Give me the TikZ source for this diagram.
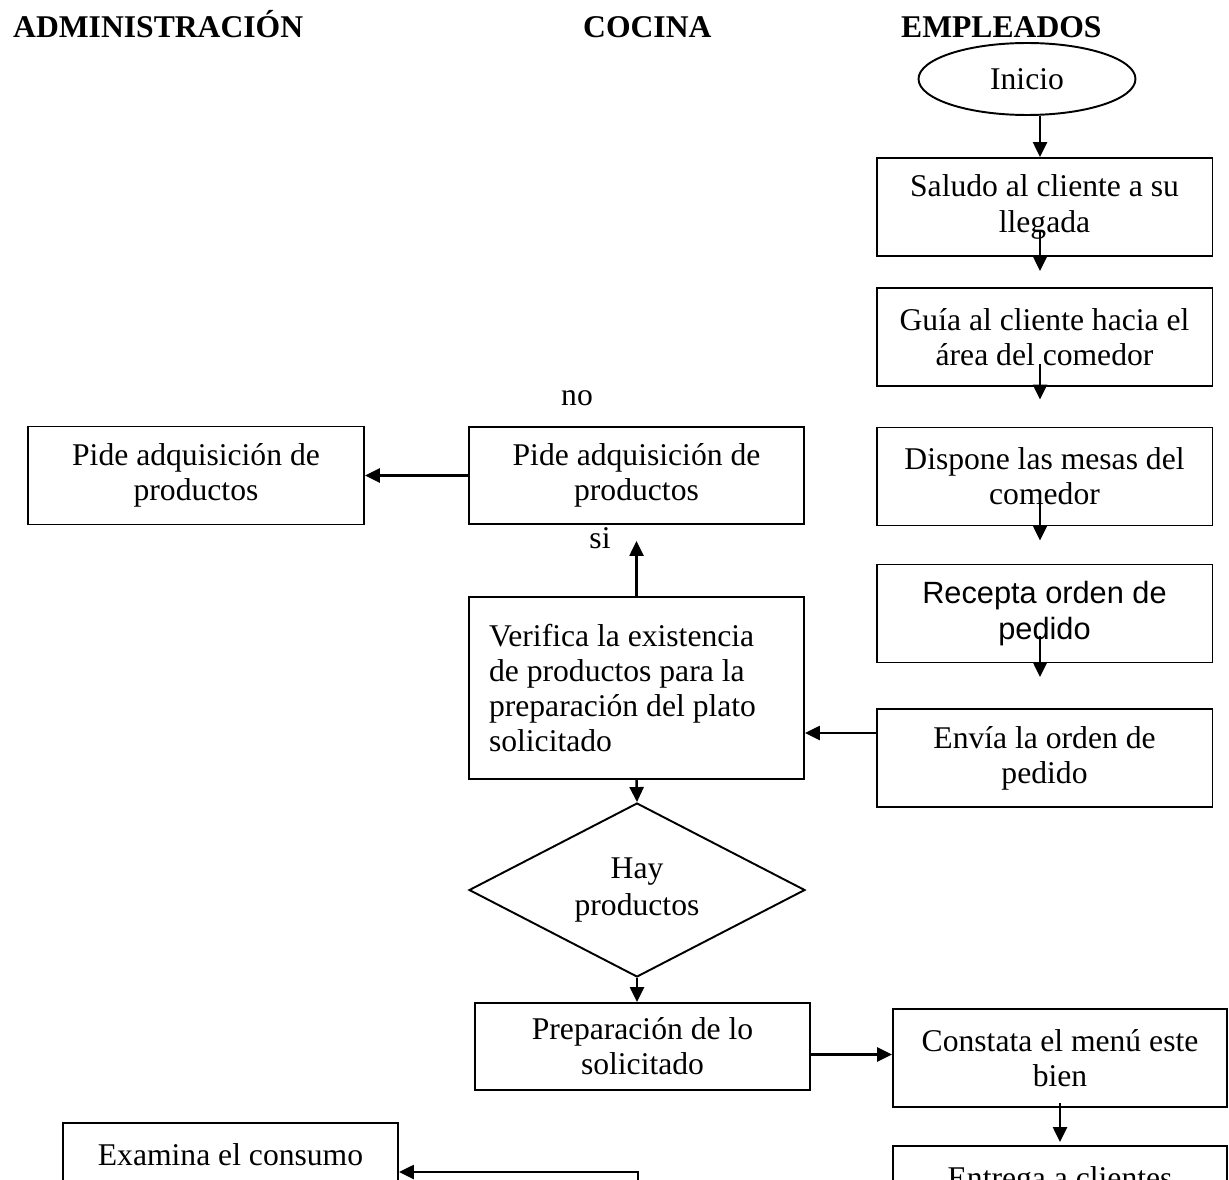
\documentclass[tikz,border=0pt]{standalone}
\usepackage{fontspec}
\setmainfont{Liberation Serif}
\newfontfamily\arialfont{Liberation Sans}
\usetikzlibrary{arrows.meta,shapes.geometric,calc}

\begin{document}
\begin{tikzpicture}[x=0.02cm, y=-0.02cm, >={Triangle[length=0.3cm,width=0.28cm]},
    font=\fontsize{18}{20}\selectfont,
    box/.style={draw, line width=1.1pt, minimum width=6.72cm, minimum height=1.96cm, align=center, inner sep=2pt},
    arr/.style={->, line width=1.4pt},
    head/.style={anchor=base west, font=\fontsize{18}{20}\selectfont\bfseries}]

    \useasboundingbox (0,0) rectangle (1229,1179);
    \clip (0,0) rectangle (1229,1179);

    % 1) Column headings
    \node[head] (hadm) at (7,38) {ADMINISTRACIÓN};
    \node[head] (hcoc) at (577,38) {COCINA};
    \node[head] (hemp) at (895,38) {EMPLEADOS};

    % 2) Employee column, top to bottom
    \coordinate (colE) at (1040,0);
    \node[draw, ellipse, line width=1.1pt, minimum width=4.34cm, minimum height=1.44cm] (inicio) at (1027,79) {Inicio};
    \node[box] (saludo) at (1044.5,207) {Saludo al cliente a su\\llegada};
    \node[box] (guia) at (1044.5,337) {Guía al cliente hacia el\\área del comedor};
    \node[box] (dispone) at (1044.5,476.5) {Dispone las mesas del\\comedor};
    \node[box, font=\arialfont\fontsize{17.5}{20.5}\selectfont] (recepta) at (1044.5,613.5) {Recepta orden de\\pedido};
    \node[box] (envia) at (1044.5,758) {Envía la orden de\\pedido};

    % 3) Kitchen column
    \node[box, minimum width=6.7cm, minimum height=1.94cm] (pidec) at (636.5,475.5) {Pide adquisición de\\productos};
    \node[box, minimum width=6.7cm, minimum height=3.64cm, text width=5.9cm, align=flush left] (verifica) at (636.5,688)
        {Verifica la existencia\\de productos para la\\preparación del plato\\solicitado};
    \node[draw, diamond, aspect=2, inner sep=0pt, line width=1.1pt, minimum width=6.72cm, minimum height=3.48cm,
        align=center, font=\fontsize{18}{21.5}\selectfont] (hay) at (637,890) {Hay\\productos};
    \node[box, minimum width=6.7cm, minimum height=1.74cm] (prep) at (642.5,1046.5) {Preparación de lo\\solicitado};
    \node[box, minimum width=6.68cm] (constata) at (1060,1058) {Constata el menú este\\bien};
    \node[box, minimum width=6.68cm] (entrega) at (1060,1195) {Entrega a clientes\\\mbox{}};

    % 4) Administration column
    \node[box] (pidea) at (196,475.5) {Pide adquisición de\\productos};
    \node[box, minimum width=6.7cm] (examina) at (230.5,1172) {Examina el consumo\\\mbox{}};

    % 5) Branch labels
    \node (lblno) at (577,398) {no};
    \node (lblsi) at (600,538) {si};

    % 6) Connectors
    \draw[arr] (inicio.south -| colE) -- (saludo.north -| colE);
    \draw[arr] ($(saludo.south -| colE)+(0,-26)$) -- ($(guia.north -| colE)+(0,-16)$);
    \draw[arr] ($(guia.south -| colE)+(0,-23)$) -- ($(dispone.north -| colE)+(0,-27)$);
    \draw[arr] ($(dispone.south -| colE)+(0,-23)$) -- ($(recepta.north -| colE)+(0,-23)$);
    \draw[arr] ($(recepta.south -| colE)+(0,-27)$) -- ($(envia.north -| colE)+(0,-31)$);

    \coordinate (ev) at ($(envia.west)+(0,-25)$);
    \draw[arr] (ev) -- (ev -| verifica.east);
    \draw[arr] (verifica.north) -- ($(pidec.south)+(0,16)$);
    \draw[arr] (pidec.west) -- (pidea.east);
    \draw[arr] (verifica.south) -- (hay.north);
    \draw[arr] (hay.south) -- (hay.south |- prep.north);

    \coordinate (pc) at ($(prep.east)+(0,8)$);
    \draw[arr] (pc) -- (pc -| constata.west);
    \draw[arr] ($(constata.south)+(0,-5)$) -- ($(entrega.north)+(0,-3)$);

    \coordinate (cut) at (638,1200);
    \draw[arr] (cut) |- (examina.east);

\end{tikzpicture}
\end{document}
